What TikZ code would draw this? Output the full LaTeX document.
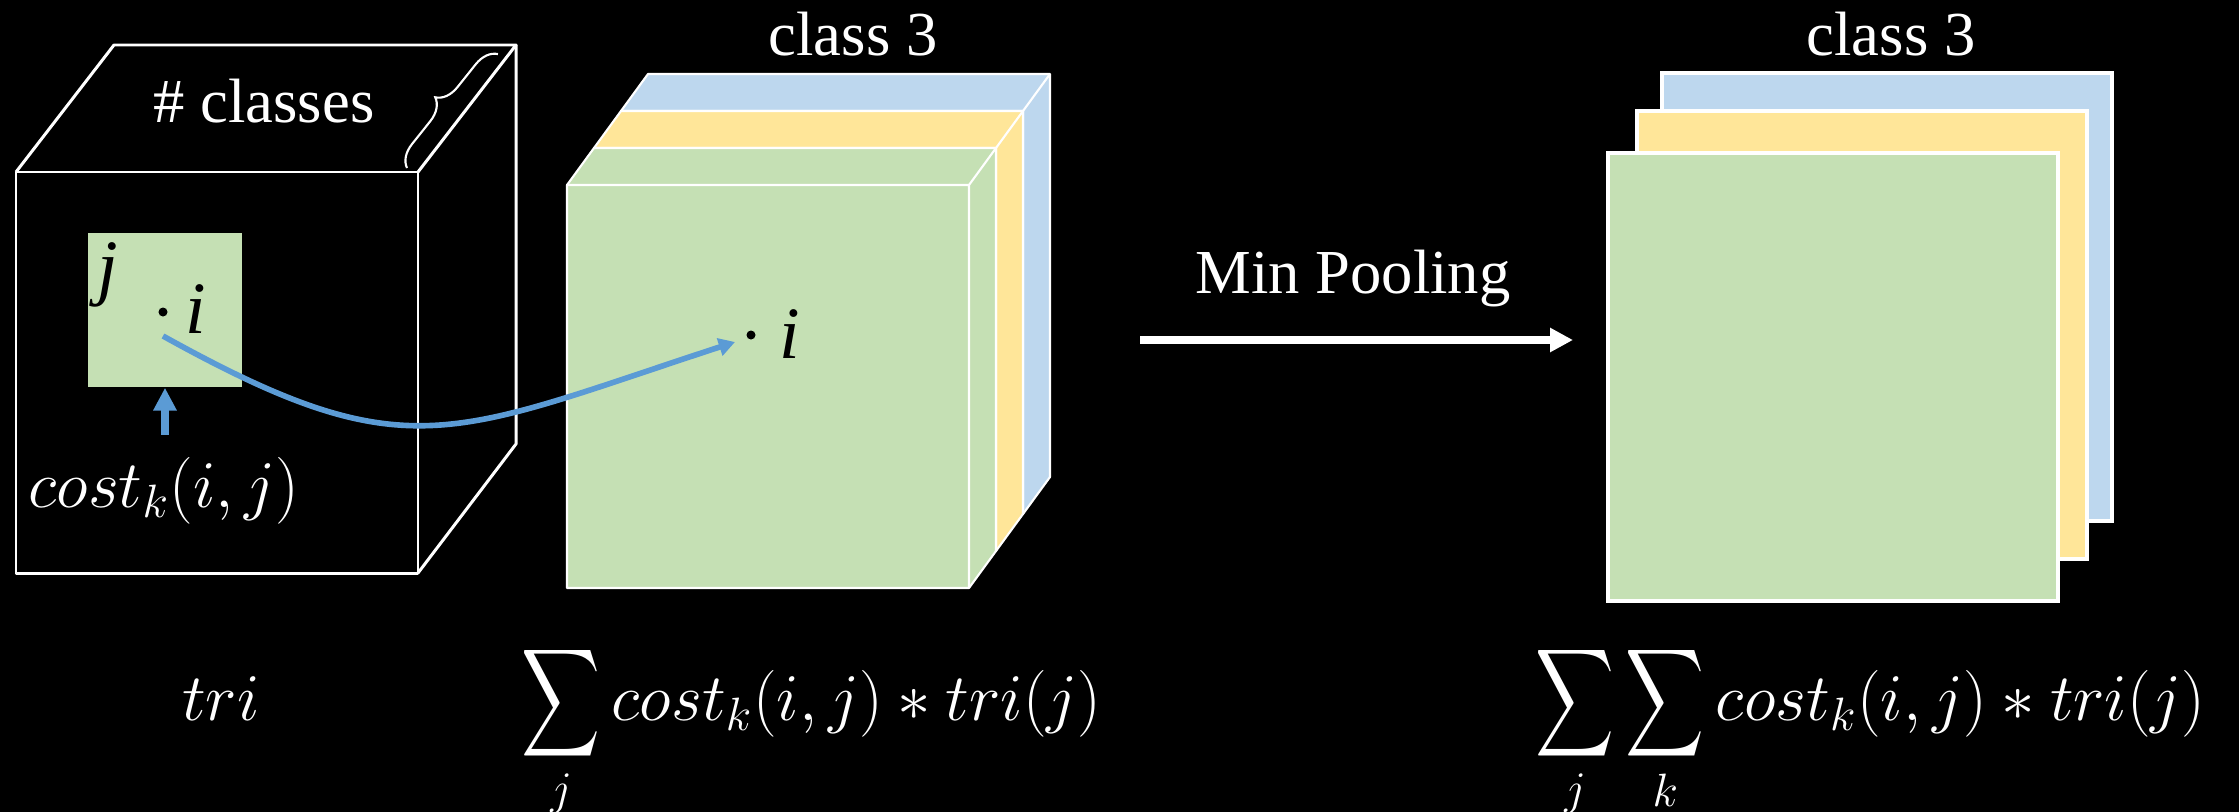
\RequirePackage{fix-cm}
\documentclass[tikz,border=0pt]{standalone}
\usepackage{amsmath}
\usepackage{fontspec}
\setmainfont{Liberation Serif}
\usepackage{graphicx}
\usetikzlibrary{arrows.meta, decorations.pathreplacing, positioning, calc}
\definecolor{cellgreen}{RGB}{197, 224, 180}
\definecolor{cellyellow}{RGB}{255, 230, 153}
\definecolor{cellblue}{RGB}{189, 215, 238}
\definecolor{linkblue}{RGB}{91, 155, 213}
\newcommand{\bigsum}{\mathop{\vcenter{\hbox{\scalebox{0.9}[1.24]{$\displaystyle\sum$}}}}\limits}

\begin{document}
\begin{tikzpicture}[
    x=0.01cm, y=-0.01cm,
    lbl/.style     = {font=\fontsize{17.8}{21}\selectfont\color{white}, anchor=base, inner sep=0pt},
    frm/.style     = {font=\fontsize{19}{23}\selectfont\color{white}, inner sep=0pt},
    idx/.style     = {font=\fontsize{21}{24}\selectfont\itshape\color{black}, anchor=base, inner sep=0pt},
    spot/.style    = {circle, fill=black, inner sep=0pt, minimum size=0.09cm},
    cubeline/.style= {draw=white, line width=0.85pt, line join=round},
    slab/.style    = {draw=white, line width=0.6pt, line join=round},
    sheet/.style   = {draw=white, line width=1.1pt, minimum width=4.49cm, minimum height=4.47cm, inner sep=0pt},
    cellbox/.style = {fill=cellgreen, minimum size=1.54cm, inner sep=0pt},
    link/.style    = {-{Triangle[length=4.6pt, width=5pt]}, draw=linkblue, line width=1.6pt},
    uparr/.style   = {-{Triangle[length=6.5pt, width=6.3pt]}, draw=linkblue, line width=2.3pt},
    poolarr/.style = {-{Triangle[length=6.5pt, width=6.5pt]}, draw=white, line width=2.3pt},
  ]
    \useasboundingbox (0,0) rectangle (2239,812);
    \fill[black] (0,0) rectangle (2239,812);

    % ── input cube ──
    \draw[cubeline] (16,172) rectangle (418,573);
    \draw[cubeline] (16,172) -- (114,45) -- (516,45) -- (418,172);
    \draw[cubeline] (516,45) -- (516,444) -- (418,573);
    \draw[white, line width=0.6pt, decorate, decoration={brace, amplitude=0.22cm}] (407,168) -- (498,54);
    \node[lbl] (cls) at (264,122) {\# classes};

    \node[cellbox] (cell) at (165,310) {};
    \node[idx] (jc) at (108,291) {j};
    \node[spot] (d1) at (163,312) {};
    \node[idx] (i1) at (196,333) {i};
    \node[frm, anchor=base] (cst) at (164,507) {$cost_k(i,j)$};
    \draw[uparr] ([yshift=-0.47cm]cell.south) -- (cell.south);

    % ── class slabs ──
    \filldraw[slab, fill=cellblue] (621,514) -- (621,111) -- ++(27,-37) -- ++(402,0) -- ++(0,403) -- (1023,514) -- cycle;
    \draw[slab] (621,111) -- (1023,111) -- (1023,514) (1023,111) -- ++(27,-37);
    \filldraw[slab, fill=cellyellow] (594,551) -- (594,148) -- ++(27,-37) -- ++(402,0) -- ++(0,403) -- (996,551) -- cycle;
    \draw[slab] (594,148) -- (996,148) -- (996,551) (996,148) -- ++(27,-37);
    \filldraw[slab, fill=cellgreen] (567,588) -- (567,185) -- ++(27,-37) -- ++(402,0) -- ++(0,403) -- (969,588) -- cycle;
    \draw[slab] (567,185) -- (969,185) -- (969,588) (969,185) -- ++(27,-37);
    \node[lbl] (c3a) at (853,55) {class 3};

    \node[spot] (d2) at (751,335) {};
    \node[idx] (i2) at (790,358) {i};

    % ── cost link ──
    \coordinate (ls) at (163,336);
    \coordinate (le) at (735,342);
    \draw[link] (ls) .. controls (408,472) and (450,435) .. (le);

    % ── pooling ──
    \node[lbl] (mp) at (1353,293) {Min Pooling};
    \coordinate (pa) at (1140,340);
    \coordinate (pb) at (1573,340);
    \draw[poolarr] (pa) -- (pb);

    \node[sheet, fill=cellblue]   (sb) at (1887,297) {};
    \node[sheet, fill=cellyellow] (sy) at (1862,335) {};
    \node[sheet, fill=cellgreen]  (sg) at (1833,377) {};
    \node[lbl] (c3b) at (1891,55) {class 3};

    % ── formulas ──
    \node[frm, anchor=base] (tri) at (221,720) {$tri$};
    \node[frm, anchor=base west] (f1) at (521,720) {$\displaystyle\bigsum_j cost_k(i,j)*tri(j)$};
    \node[frm, anchor=base west] (f2) at (1535,720) {$\displaystyle\bigsum_j\bigsum_k cost_k(i,j)*tri(j)$};

  \end{tikzpicture}
\end{document}
